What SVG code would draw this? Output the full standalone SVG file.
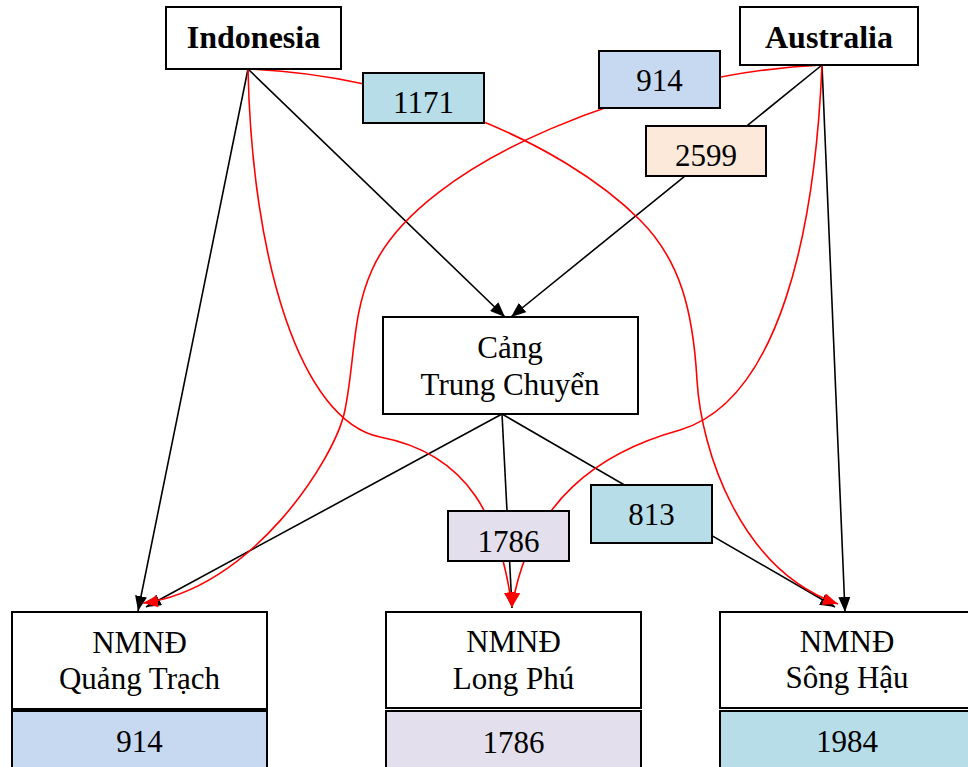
<svg xmlns="http://www.w3.org/2000/svg" width="968" height="767" viewBox="0 0 968 767">
<style>
.box{fill:#fff;stroke:#000;stroke-width:2}
.t{font-family:'Liberation Serif','Times New Roman',serif;font-size:31px;fill:#000;text-anchor:middle}
.b{font-weight:bold;font-size:32px}
.blk{fill:none;stroke:#000;stroke-width:1.6}
.red{fill:none;stroke:#ff0000;stroke-width:1.6}
.lb{stroke:#000;stroke-width:2}
</style>
<defs>
<marker id="ab" markerUnits="userSpaceOnUse" markerWidth="16" markerHeight="12" refX="15" refY="6" orient="auto">
<path d="M0,0 L15,6 L0,12 z" fill="#000"/>
</marker>
<marker id="ar" markerUnits="userSpaceOnUse" markerWidth="16" markerHeight="12" refX="15" refY="6" orient="auto">
<path d="M0,0 L15,6 L0,12 z" fill="#ff0000"/>
</marker>
</defs>
<rect width="968" height="767" fill="#fff"/>
<g id="connectors">
<path class="blk" d="M248,69 L138,611" marker-end="url(#ab)"/>
<path class="blk" d="M248,69 L505,317" marker-end="url(#ab)"/>
<path class="blk" d="M822,65 L511,317" marker-end="url(#ab)"/>
<path class="blk" d="M822,65 L845,612" marker-end="url(#ab)"/>
<path class="blk" d="M502,414 L146,607" marker-end="url(#ab)"/>
<path class="blk" d="M502,414 L512,608" marker-end="url(#ab)"/>
<path class="blk" d="M502,414 L835,607" marker-end="url(#ab)"/>
<path class="red" d="M248,69 C400,75 560,140 640,220 C680,260 693,310 697,380 C701,450 740,570 838,604" marker-end="url(#ar)"/>
<path class="red" d="M248,69 C252,260 300,420 380,437 C470,454 500,520 512,607" marker-end="url(#ar)"/>
<path class="red" d="M822,65 C650,72 420,160 372,270 C352,314 355,360 345,410 C335,460 250,590 143,603" marker-end="url(#ar)"/>
<path class="red" d="M822,65 C815,230 780,400 680,430 C600,452 530,500 512,607" marker-end="url(#ar)"/>
</g>
<g id="label-1171"><rect class="lb" x="363" y="73" width="121" height="50" fill="#b7dde8"/><text class="t" x="423.5" y="113">1171</text></g>
<g id="label-914"><rect class="lb" x="599" y="51" width="121" height="57" fill="#c6d9f0"/><text class="t" x="659.5" y="91">914</text></g>
<g id="label-2599"><rect class="lb" x="646" y="126" width="120" height="50" fill="#fde9d9"/><text class="t" x="706" y="166">2599</text></g>
<g id="label-1786"><rect class="lb" x="448" y="511" width="121" height="50" fill="#e4dfec"/><text class="t" x="508.5" y="552">1786</text></g>
<g id="label-813"><rect class="lb" x="591" y="485" width="121" height="58" fill="#b7dde8"/><text class="t" x="651.5" y="525">813</text></g>
<g id="indonesia"><rect class="box" x="166" y="7" width="175" height="62"/><text class="t b" x="253.5" y="48">Indonesia</text></g>
<g id="australia"><rect class="box" x="740" y="7" width="178" height="58"/><text class="t b" x="829" y="48">Australia</text></g>
<g id="hub"><rect class="box" x="383" y="317" width="255" height="97"/><text class="t" x="510" y="358">Cảng</text><text class="t" x="510" y="395">Trung Chuyển</text></g>
<g id="quang-trach"><rect class="box" x="12" y="612" width="255" height="97"/><text class="t" x="139.5" y="653">NMNĐ</text><text class="t" x="139.5" y="689">Quảng Trạch</text>
<rect class="box" x="12" y="711" width="255" height="70" style="fill:#c6d9f0"/><text class="t" x="139.5" y="752">914</text></g>
<g id="long-phu"><rect class="box" x="386" y="612" width="255" height="96"/><text class="t" x="513.5" y="652">NMNĐ</text><text class="t" x="513.5" y="689">Long Phú</text>
<rect class="box" x="386" y="711" width="255" height="70" style="fill:#e4dfec"/><text class="t" x="513.5" y="753">1786</text></g>
<g id="song-hau"><rect class="box" x="720" y="612" width="255" height="96"/><text class="t" x="847" y="652">NMNĐ</text><text class="t" x="847" y="688">Sông Hậu</text>
<rect class="box" x="720" y="711" width="255" height="70" style="fill:#b7dde8"/><text class="t" x="847" y="752">1984</text></g>
</svg>
